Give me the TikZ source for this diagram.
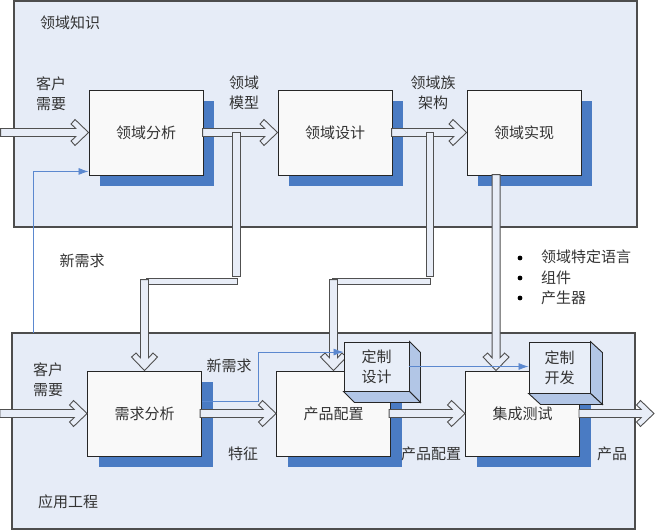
\documentclass[tikz,border=0pt]{standalone}
\usepackage{fontspec}
\setmainfont{Noto Sans CJK SC}
\usetikzlibrary{arrows.meta,calc}
\definecolor{panelfill}{HTML}{E6ECF7}
\definecolor{panelline}{HTML}{4D4D4D}
\definecolor{boxfill}{HTML}{F9F9F9}
\definecolor{shadowblue}{HTML}{4A7BC3}
\definecolor{arrowfill}{HTML}{E8EDF7}
\definecolor{arrowline}{HTML}{505050}
\definecolor{bluelink}{HTML}{5B88CF}
\definecolor{sideface}{HTML}{B2C6E6}
\definecolor{frontface}{HTML}{E8EEF8}
\definecolor{txt}{HTML}{333333}
\tikzset{
  panel/.style={draw=panelline, line width=1.2pt, fill=panelfill},
  procbox/.style={draw=black!85, line width=0.9pt, fill=boxfill,
    minimum width=114pt, minimum height=85pt, inner sep=0pt,
    preaction={fill=shadowblue, transform canvas={xshift=11pt,yshift=-11pt}}},
  custbox/.style={draw=black!85, line width=0.9pt, fill=frontface,
    inner sep=0pt, align=center},
  custside/.style={draw=black!85, line width=0.9pt, fill=sideface},
  arrowshape/.style={draw=arrowline, line width=0.9pt, fill=arrowfill, line join=miter},
  bluelinkstyle/.style={draw=bluelink, line width=0.8pt, -{Latex[length=10pt,width=7pt]}},
  lbl/.style={inner sep=0pt, align=center},
  pics/blockarrow/.style={code={
    \draw[arrowshape] (-#1,4) -- (-12.8,4) -- (-17.5,8.5) -- (-13.5,13) -- (0,0)
      -- (-13.5,-13) -- (-17.5,-8.5) -- (-12.8,-4) -- (-#1,-4) -- cycle;}}
}
\begin{document}
\begin{tikzpicture}[x=1pt,y=-1pt, font=\fontsize{15}{20}\selectfont, text=txt]
\useasboundingbox (0,0) rectangle (655,530);
% panels
\draw[panel] (14,1) rectangle (637,227);
\draw[panel] (12,333) rectangle (635,529);
\node[lbl] (tknow) at (70,23) {领域知识};
\node[lbl] (tapp) at (68,502) {应用工程};

% process boxes
\node[procbox] (da) at (146,132.5) {领域分析};
\node[procbox] (dd) at (335,132.5) {领域设计};
\node[procbox] (di) at (524,132.5) {领域实现};
\node[procbox] (ra) at (144.5,413.5) {需求分析};
\node[procbox] (pc) at (333.5,413.5) {产品配置};
\node[procbox] (it) at (522.5,413.5) {集成测试};

% horizontal block arrows
\coordinate (inTop) at (1,132.5);
\coordinate (inBot) at (1,412.5);
\pic at (da.west) {blockarrow=88};
\pic at (dd.west) {blockarrow=75};
\pic at (di.west) {blockarrow=75};
\pic at (ra.west) {blockarrow=87};
\pic at (pc.west) {blockarrow=76};
\pic at (it.west) {blockarrow=76};
\coordinate (outEnd) at (654,413.5);
\pic at (outEnd) {blockarrow=75};

% pipe A : domain model -> requirement analysis
\coordinate (pA1) at (232.5,132);
\coordinate (pA2) at (240.5,276);
\coordinate (pA3) at (146,278);
\coordinate (pA4) at (237,284);
\draw[arrowshape] (pA1) rectangle (pA2);
\draw[arrowshape] (pA3) rectangle (pA4);
\pic[rotate=-90] at (ra.north) {blockarrow=91};

% pipe B : domain architecture -> product configuration
\coordinate (pB1) at (426,132);
\coordinate (pB2) at (433.5,276);
\coordinate (pB3) at (332,278);
\coordinate (pB4) at (430,284);
\draw[arrowshape] (pB1) rectangle (pB2);
\draw[arrowshape] (pB3) rectangle (pB4);
\pic[rotate=-90] at (pc.north) {blockarrow=91};

% pipe C : domain implementation -> integration test
\coordinate (pC) at ($(it.north west)+(31,0)$);
\pic[rotate=-90] at (pC) {blockarrow=196};

% custom 3D boxes
\node[custbox, minimum width=65pt, minimum height=49pt] (cd) at (376.5,366.5) {定制\\设计};
\fill[custside] (cd.north east) -- ++(11,11) -- ($(cd.south east)+(11,11)$) -- (cd.south east) -- cycle;
\fill[custside] (cd.south west) -- (cd.south east) -- ($(cd.south east)+(11,11)$) -- ($(cd.south west)+(11,11)$) -- cycle;
\node[custbox, minimum width=61pt, minimum height=51pt] (cv) at (559.5,367.5) {定制\\开发};
\fill[custside] (cv.north east) -- ++(12,11) -- ($(cv.south east)+(12,11)$) -- (cv.south east) -- cycle;
\fill[custside] (cv.south west) -- (cv.south east) -- ($(cv.south east)+(12,11)$) -- ($(cv.south west)+(12,11)$) -- cycle;

% blue thin links
\coordinate (nr1) at (33,333);
\draw[bluelinkstyle] (nr1) |- ($(da.south west)+(0,-4)$);
\coordinate (nr2) at ($(ra.east)+(0,-12.5)$);
\coordinate (nr2b) at (258,401);
\draw[bluelinkstyle] (nr2) -- (nr2b) |- ($(cd.north west)+(0,10.5)$);
\draw[bluelinkstyle] (cd.east) -- (cv.west |- cd.east);

% labels
\node[lbl] (lcu1) at (51,94) {客户\\需要};
\node[lbl] (lmod) at (244,93) {领域\\模型};
\node[lbl] (larc) at (433,93) {领域族\\架构};
\node[lbl] (lnr1) at (82,261) {新需求};
\node[lbl] (lcu2) at (48,380) {客户\\需要};
\node[lbl] (lnr2) at (229,366) {新需求};
\node[lbl] (lfeat) at (243,454) {特征};
\node[lbl] (lpc) at (431,454) {产品配置};
\node[lbl] (lprod) at (612,454) {产品};

% bullet list
\fill[black] (520,258) circle (2.4);
\fill[black] (520,278) circle (2.4);
\fill[black] (520,298) circle (2.4);
\node[lbl, anchor=west] (b1) at (541,257) {领域特定语言};
\node[lbl, anchor=west] (b2) at (541,278) {组件};
\node[lbl, anchor=west] (b3) at (541,298) {产生器};
\end{tikzpicture}
\end{document}
